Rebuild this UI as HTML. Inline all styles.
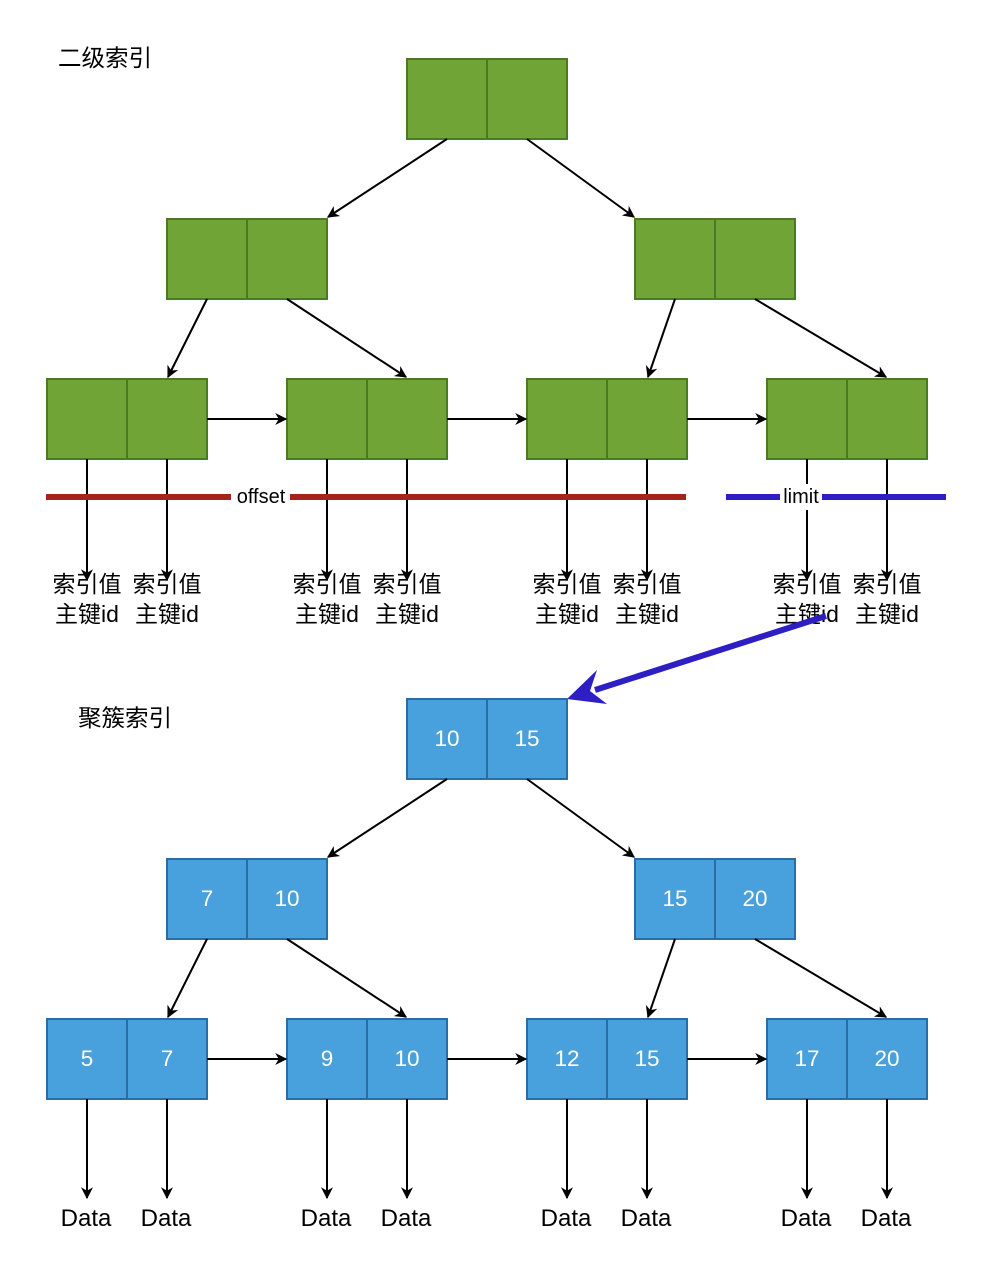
<!DOCTYPE html>
<html><head><meta charset="utf-8">
<style>
html,body{margin:0;padding:0;background:#fff;}
svg{display:block;}
text{font-family:"Liberation Sans","Noto Sans CJK SC",sans-serif;}
</style></head>
<body>
<svg width="982" height="1264" viewBox="0 0 982 1264" xmlns="http://www.w3.org/2000/svg">
<defs>
<marker id="a" viewBox="0 0 10 10" refX="9" refY="5" markerWidth="12" markerHeight="12" markerUnits="userSpaceOnUse" orient="auto">
<path d="M0,0 L10,5 L0,10 L3,5 Z" fill="#000"/>
</marker>
<style>
.g{fill:#71a436;stroke:#4a7a25;stroke-width:2}
.bl{fill:#48a0dc;stroke:#2d6ca2;stroke-width:2}
.l{stroke:#000;stroke-width:2;fill:none;marker-end:url(#a)}
.w{fill:#fff;font-size:22.5px;text-anchor:middle}
.t{fill:#000;font-size:23px;text-anchor:middle}
.d{fill:#000;font-size:24px;text-anchor:middle}
</style>
</defs>

<text x="58" y="66" font-size="23.5" fill="#000">二级索引</text>
<text x="78" y="726" font-size="23.5" fill="#000">聚簇索引</text>

<g>
<rect class="g" x="407" y="59" width="80" height="80"/><rect class="g" x="487" y="59" width="80" height="80"/>
<rect class="g" x="167" y="219" width="80" height="80"/><rect class="g" x="247" y="219" width="80" height="80"/>
<rect class="g" x="635" y="219" width="80" height="80"/><rect class="g" x="715" y="219" width="80" height="80"/>
<rect class="g" x="47" y="379" width="80" height="80"/><rect class="g" x="127" y="379" width="80" height="80"/>
<rect class="g" x="287" y="379" width="80" height="80"/><rect class="g" x="367" y="379" width="80" height="80"/>
<rect class="g" x="527" y="379" width="80" height="80"/><rect class="g" x="607" y="379" width="80" height="80"/>
<rect class="g" x="767" y="379" width="80" height="80"/><rect class="g" x="847" y="379" width="80" height="80"/>
</g>
<line class="l" x1="447" y1="139" x2="328" y2="217"/>
<line class="l" x1="527" y1="139" x2="634" y2="217"/>
<line class="l" x1="207" y1="299" x2="168" y2="377"/>
<line class="l" x1="287" y1="299" x2="406" y2="377"/>
<line class="l" x1="675" y1="299" x2="648" y2="377"/>
<line class="l" x1="755" y1="299" x2="886" y2="377"/>
<line class="l" x1="207" y1="419" x2="286" y2="419"/>
<line class="l" x1="447" y1="419" x2="526" y2="419"/>
<line class="l" x1="687" y1="419" x2="766" y2="419"/>
<g>
<line class="l" x1="87" y1="459" x2="87" y2="580"/>
<line class="l" x1="167" y1="459" x2="167" y2="580"/>
<line class="l" x1="327" y1="459" x2="327" y2="580"/>
<line class="l" x1="407" y1="459" x2="407" y2="580"/>
<line class="l" x1="567" y1="459" x2="567" y2="580"/>
<line class="l" x1="647" y1="459" x2="647" y2="580"/>
<line class="l" x1="807" y1="459" x2="807" y2="580"/>
<line class="l" x1="887" y1="459" x2="887" y2="580"/>
</g>
<line x1="46" y1="497" x2="686" y2="497" stroke="#a6231b" stroke-width="6"/>
<rect x="231" y="484" width="59" height="26" fill="#fff"/>
<text x="261" y="503" font-size="20" text-anchor="middle" fill="#000">offset</text>
<line x1="726" y1="497" x2="946" y2="497" stroke="#2e1fc4" stroke-width="6"/>
<rect x="780" y="484" width="42" height="26" fill="#fff"/>
<text x="801" y="503" font-size="20" text-anchor="middle" fill="#000">limit</text>

<g class="t">
<text x="87" y="592">索引值</text><text x="87" y="622">主键id</text>
<text x="167" y="592">索引值</text><text x="167" y="622">主键id</text>
<text x="327" y="592">索引值</text><text x="327" y="622">主键id</text>
<text x="407" y="592">索引值</text><text x="407" y="622">主键id</text>
<text x="567" y="592">索引值</text><text x="567" y="622">主键id</text>
<text x="647" y="592">索引值</text><text x="647" y="622">主键id</text>
<text x="807" y="592">索引值</text><text x="807" y="622">主键id</text>
<text x="887" y="592">索引值</text><text x="887" y="622">主键id</text>
</g>

<line x1="826" y1="616" x2="595" y2="690" stroke="#2e1fc4" stroke-width="6"/>
<path d="M567,699 L597,670 L590,691 L607,704 Z" fill="#2e1fc4"/>

<g>
<rect class="bl" x="407" y="699" width="80" height="80"/><rect class="bl" x="487" y="699" width="80" height="80"/>
<rect class="bl" x="167" y="859" width="80" height="80"/><rect class="bl" x="247" y="859" width="80" height="80"/>
<rect class="bl" x="635" y="859" width="80" height="80"/><rect class="bl" x="715" y="859" width="80" height="80"/>
<rect class="bl" x="47" y="1019" width="80" height="80"/><rect class="bl" x="127" y="1019" width="80" height="80"/>
<rect class="bl" x="287" y="1019" width="80" height="80"/><rect class="bl" x="367" y="1019" width="80" height="80"/>
<rect class="bl" x="527" y="1019" width="80" height="80"/><rect class="bl" x="607" y="1019" width="80" height="80"/>
<rect class="bl" x="767" y="1019" width="80" height="80"/><rect class="bl" x="847" y="1019" width="80" height="80"/>
</g>
<g class="w">
<text x="447" y="746">10</text><text x="527" y="746">15</text>
<text x="207" y="906">7</text><text x="287" y="906">10</text>
<text x="675" y="906">15</text><text x="755" y="906">20</text>
<text x="87" y="1066">5</text><text x="167" y="1066">7</text>
<text x="327" y="1066">9</text><text x="407" y="1066">10</text>
<text x="567" y="1066">12</text><text x="647" y="1066">15</text>
<text x="807" y="1066">17</text><text x="887" y="1066">20</text>
</g>
<line class="l" x1="447" y1="779" x2="328" y2="857"/>
<line class="l" x1="527" y1="779" x2="634" y2="857"/>
<line class="l" x1="207" y1="939" x2="168" y2="1017"/>
<line class="l" x1="287" y1="939" x2="406" y2="1017"/>
<line class="l" x1="675" y1="939" x2="648" y2="1017"/>
<line class="l" x1="755" y1="939" x2="886" y2="1017"/>
<line class="l" x1="207" y1="1059" x2="286" y2="1059"/>
<line class="l" x1="447" y1="1059" x2="526" y2="1059"/>
<line class="l" x1="687" y1="1059" x2="766" y2="1059"/>
<g>
<line class="l" x1="87" y1="1099" x2="87" y2="1198"/>
<line class="l" x1="167" y1="1099" x2="167" y2="1198"/>
<line class="l" x1="327" y1="1099" x2="327" y2="1198"/>
<line class="l" x1="407" y1="1099" x2="407" y2="1198"/>
<line class="l" x1="567" y1="1099" x2="567" y2="1198"/>
<line class="l" x1="647" y1="1099" x2="647" y2="1198"/>
<line class="l" x1="807" y1="1099" x2="807" y2="1198"/>
<line class="l" x1="887" y1="1099" x2="887" y2="1198"/>
</g>
<g class="d">
<text x="86" y="1226">Data</text><text x="166" y="1226">Data</text>
<text x="326" y="1226">Data</text><text x="406" y="1226">Data</text>
<text x="566" y="1226">Data</text><text x="646" y="1226">Data</text>
<text x="806" y="1226">Data</text><text x="886" y="1226">Data</text>
</g>
</svg>
</body></html>
